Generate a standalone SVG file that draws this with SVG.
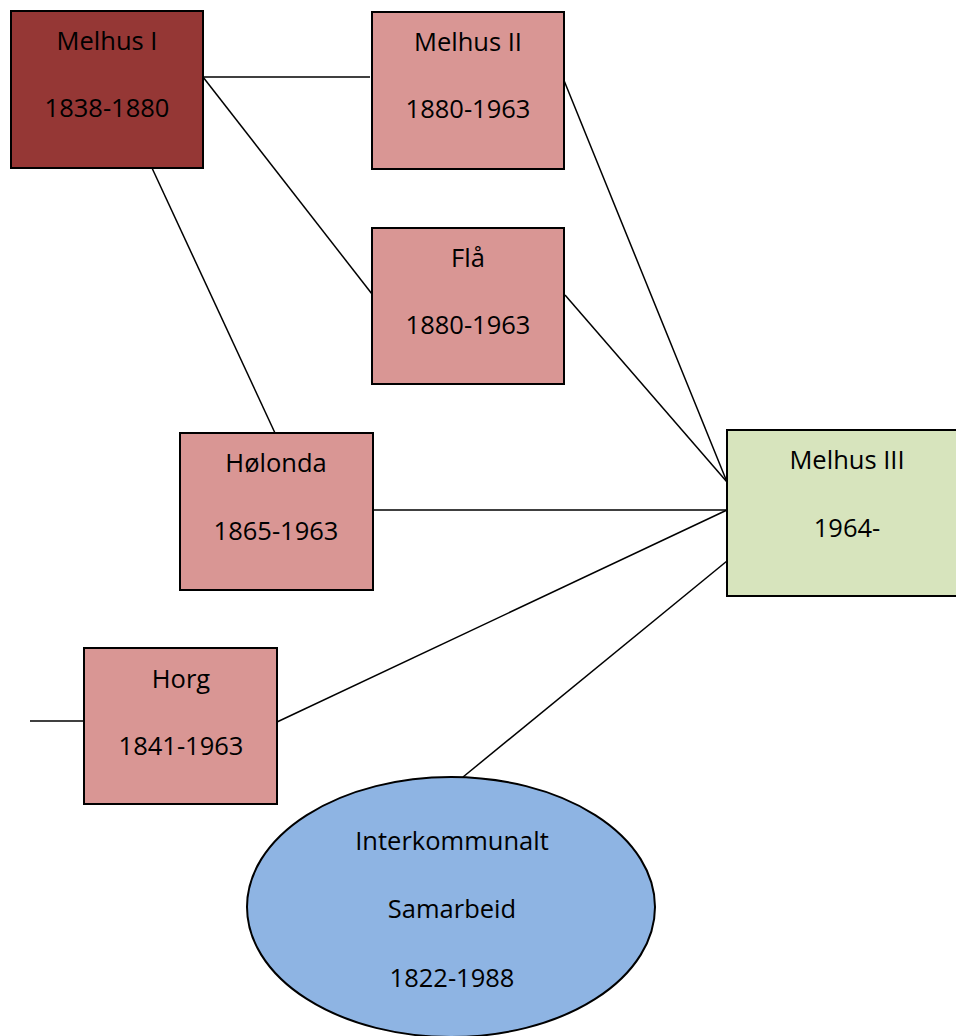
<svg xmlns="http://www.w3.org/2000/svg" width="956" height="1036" viewBox="0 0 956 1036">
<style>
.box{stroke:#000;stroke-width:2}
.dark{fill:#953735}
.pink{fill:#D99694}
.green{fill:#D7E4BD}
.blue{fill:#8EB4E3}
.lbl{font-family:"Open Sans","Noto Sans",sans-serif;font-size:25.5px;fill:#000;text-anchor:middle}
.conn line{stroke:#000;stroke-width:1.5}
</style>
<rect width="956" height="1036" fill="#fff"/>
<g id="connectors" class="conn">
<line x1="203" y1="77" x2="370" y2="77"/>
<line x1="203" y1="77" x2="372" y2="294"/>
<line x1="152" y1="168" x2="275" y2="433"/>
<line x1="563" y1="78" x2="727" y2="482"/>
<line x1="565" y1="295" x2="727" y2="482"/>
<line x1="373" y1="510" x2="727" y2="510"/>
<line x1="277" y1="722" x2="727" y2="510"/>
<line x1="30" y1="721" x2="84" y2="721"/>
<line x1="463" y1="777" x2="727" y2="561"/>
</g>
<g id="melhus1">
<rect class="box dark" x="11" y="11" width="192" height="157"/>
<text class="lbl" x="107" y="50">Melhus I</text>
<text class="lbl" x="107" y="117">1838-1880</text>
</g>
<g id="melhus2">
<rect class="box pink" x="372" y="12" width="192" height="157"/>
<text class="lbl" x="468" y="51">Melhus II</text>
<text class="lbl" x="468" y="118">1880-1963</text>
</g>
<g id="fla">
<rect class="box pink" x="372" y="228" width="192" height="156"/>
<text class="lbl" x="468" y="267">Flå</text>
<text class="lbl" x="468" y="334">1880-1963</text>
</g>
<g id="holonda">
<rect class="box pink" x="180" y="433" width="193" height="157"/>
<text class="lbl" x="276" y="472">Hølonda</text>
<text class="lbl" x="276" y="540">1865-1963</text>
</g>
<g id="horg">
<rect class="box pink" x="84" y="648" width="193" height="156"/>
<text class="lbl" x="181" y="688">Horg</text>
<text class="lbl" x="181" y="755">1841-1963</text>
</g>
<g id="melhus3">
<rect class="box green" x="727" y="430" width="240" height="166"/>
<text class="lbl" x="847" y="469">Melhus III</text>
<text class="lbl" x="847" y="537">1964-</text>
</g>
<g id="interkommunalt">
<ellipse class="box blue" cx="451" cy="907" rx="204" ry="130"/>
<text class="lbl" x="452" y="850">Interkommunalt</text>
<text class="lbl" x="452" y="918">Samarbeid</text>
<text class="lbl" x="452" y="987">1822-1988</text>
</g>
</svg>
